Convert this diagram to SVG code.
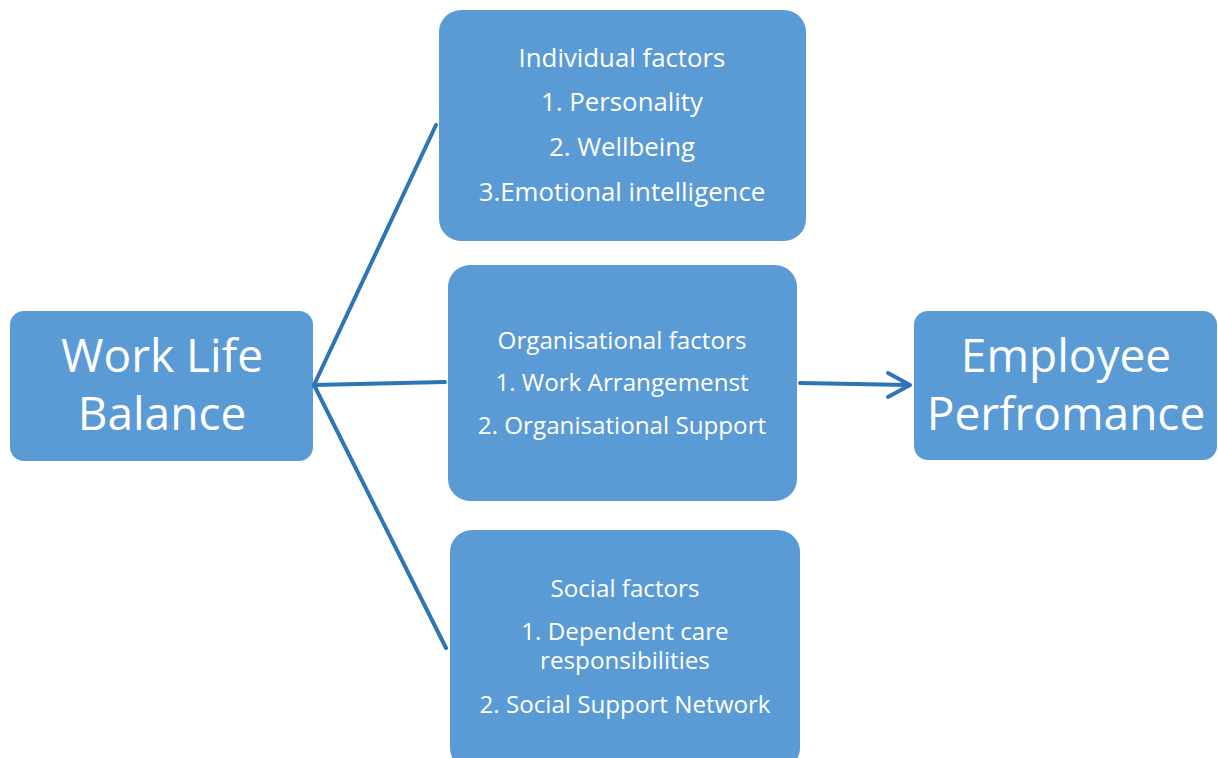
<svg xmlns="http://www.w3.org/2000/svg" width="1218" height="758" viewBox="0 0 1218 758">
  <defs>
    <style>
      .box { fill: #5B9BD5; }
      .t { font-family: "Open Sans", "Noto Sans", sans-serif; fill: #ffffff; text-anchor: middle; }
      .big { font-size: 46px; }
      .sm { font-size: 25.8px; }
      .xs { font-size: 24.2px; }
      .ln { stroke: #2E75B6; stroke-width: 4; fill: none; stroke-linecap: round; stroke-linejoin: round; }
    </style>
  </defs>
  <rect width="1218" height="758" fill="#ffffff"/>

  <g id="work-life-balance">
    <rect class="box" x="10" y="311" width="303" height="150" rx="14"/>
    <text class="t big" x="162" y="372">Work Life</text>
    <text class="t big" x="162" y="430">Balance</text>
  </g>

  <g id="individual-factors">
    <rect class="box" x="439" y="10" width="367" height="231" rx="22"/>
    <text class="t sm" x="622" y="67">Individual factors</text>
    <text class="t sm" x="622" y="111">1. Personality</text>
    <text class="t sm" x="622" y="156">2. Wellbeing</text>
    <text class="t sm" x="622" y="201">3.Emotional intelligence</text>
  </g>

  <g id="organisational-factors">
    <rect class="box" x="448" y="265" width="349" height="236" rx="22"/>
    <text class="t xs" x="622" y="349">Organisational factors</text>
    <text class="t xs" x="622" y="391">1. Work Arrangemenst</text>
    <text class="t xs" x="622" y="434">2. Organisational Support</text>
  </g>

  <g id="social-factors">
    <rect class="box" x="450" y="530" width="350" height="240" rx="22"/>
    <text class="t xs" x="625" y="597">Social factors</text>
    <text class="t xs" x="625" y="640">1. Dependent care</text>
    <text class="t xs" x="625" y="669">responsibilities</text>
    <text class="t xs" x="625" y="713">2. Social Support Network</text>
  </g>

  <g id="employee-performance">
    <rect class="box" x="914" y="311" width="303" height="149" rx="14"/>
    <text class="t big" x="1066" y="372">Employee</text>
    <text class="t big" x="1066" y="430">Perfromance</text>
  </g>

  <g id="connectors">
    <polyline class="ln" points="436,125 314,385 446,648"/>
    <line class="ln" x1="314" y1="385" x2="445" y2="382"/>
    <line class="ln" x1="800" y1="383" x2="909" y2="385"/>
    <polyline class="ln" points="888,373 910,385 888,397"/>
  </g>
</svg>
